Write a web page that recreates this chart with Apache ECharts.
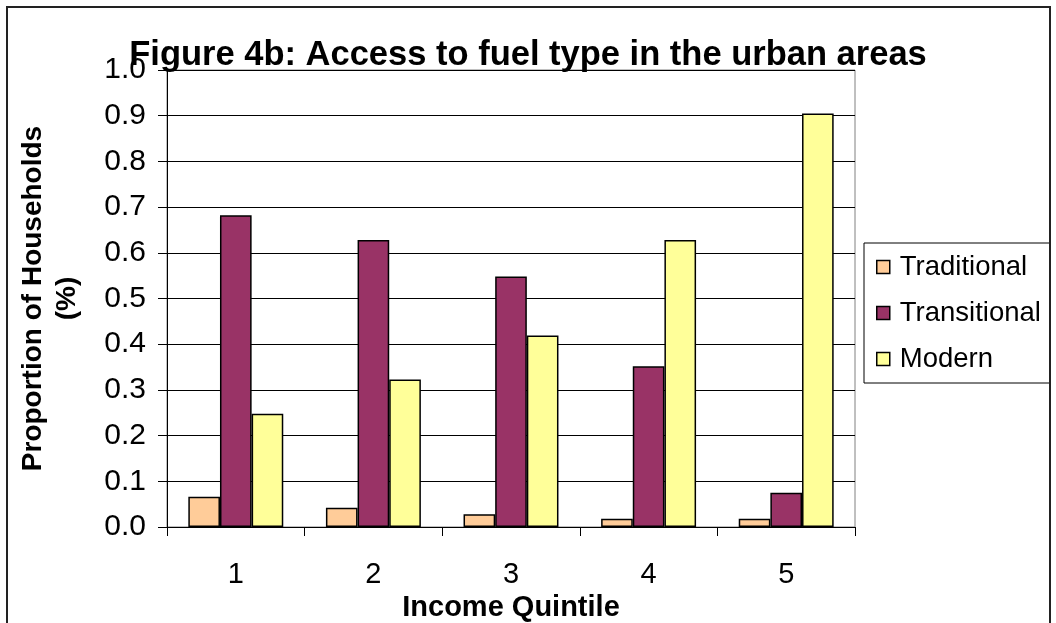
<!DOCTYPE html>
<html>
<head>
<meta charset="utf-8">
<script src="https://cdn.jsdelivr.net/npm/echarts@6/dist/echarts.min.js"></script>
<style>
  html, body { margin: 0; padding: 0; background: #fff; }
  #chart { width: 1056px; height: 623px; }
</style>
</head>
<body>
<div id="chart"></div>
<script>
// Income quintiles and the share of urban households using each fuel type
const quintiles = ['1', '2', '3', '4', '5'];
const traditional = [0.066, 0.042, 0.028, 0.018, 0.018];
const transitional = [0.682, 0.628, 0.548, 0.352, 0.075];
const modern = [0.248, 0.323, 0.419, 0.628, 0.905];
const seriesNames = ['Traditional', 'Transitional', 'Modern'];
const seriesColors = ['#FFCC99', '#993366', '#FFFF99'];

const FONT = 'Liberation Sans, Arial, sans-serif';

const chart = echarts.init(document.getElementById('chart'), null, { renderer: 'canvas' });

function barSeries(name, values, color) {
  return {
    name: name,
    type: 'bar',
    data: values,
    barGap: '0%',
    barCategoryGap: '31%',
    itemStyle: { color: color, borderColor: '#000', borderWidth: 1.5 },
    emphasis: { disabled: true }
  };
}

chart.setOption({
  animation: false,
  backgroundColor: '#fff',
  textStyle: { fontFamily: FONT },
  title: {
    text: 'Figure 4b: Access to fuel type in the urban areas',
    left: 'center',
    top: 33,
    textStyle: { fontFamily: FONT, fontSize: 34.5, fontWeight: 'bold', color: '#000' }
  },
  grid: {
    left: 167, right: 201, top: 70, bottom: 96,
    containLabel: false,
    outerBoundsMode: 'none',
    show: true, borderColor: '#808080', borderWidth: 1, backgroundColor: '#fff'
  },
  legend: {
    orient: 'vertical',
    left: 864, top: 243,
    padding: [10, 9, 10, 12],
    itemGap: 18,
    itemWidth: 13, itemHeight: 13,
    icon: 'rect',
    borderColor: '#000', borderWidth: 1,
    backgroundColor: '#fff',
    itemStyle: { borderColor: '#000', borderWidth: 1.5 },
    textStyle: { fontFamily: FONT, fontSize: 27.5, color: '#000', lineHeight: 28, padding: [0, 0, 0, 5] },
    data: seriesNames
  },
  xAxis: {
    type: 'category',
    data: quintiles,
    name: 'Income Quintile',
    nameLocation: 'middle',
    nameGap: 57,
    nameTextStyle: { fontFamily: FONT, fontSize: 29, fontWeight: 'bold', color: '#000' },
    axisLine: { lineStyle: { color: '#000', width: 1 } },
    axisTick: { show: true, alignWithLabel: false, length: 9, lineStyle: { color: '#000' } },
    axisLabel: { fontFamily: FONT, fontSize: 29, color: '#000', margin: 33 },
    splitLine: { show: false }
  },
  yAxis: {
    type: 'value',
    min: 0, max: 1, interval: 0.1,
    name: 'Proportion of Households\n(%)',
    nameLocation: 'middle',
    nameGap: 83,
    nameRotate: 90,
    nameTextStyle: { fontFamily: FONT, fontSize: 28, fontWeight: 'bold', color: '#000', lineHeight: 34, align: 'center' },
    axisLine: { show: true, lineStyle: { color: '#000', width: 1 } },
    axisTick: { show: true, length: 9, lineStyle: { color: '#000' } },
    axisLabel: {
      fontFamily: FONT, fontSize: 30, color: '#000', margin: 21,
      formatter: v => v.toFixed(1)
    },
    splitLine: { show: true, lineStyle: { color: '#000', width: 1 } }
  },
  graphic: [{
    type: 'rect',
    shape: { x: 7, y: 7, width: 1043, height: 640 },
    style: { fill: 'none', stroke: '#222', lineWidth: 2 },
    z: 100, silent: true
  }],
  series: [
    barSeries(seriesNames[0], traditional, seriesColors[0]),
    barSeries(seriesNames[1], transitional, seriesColors[1]),
    barSeries(seriesNames[2], modern, seriesColors[2])
  ]
});
</script>
</body>
</html>
